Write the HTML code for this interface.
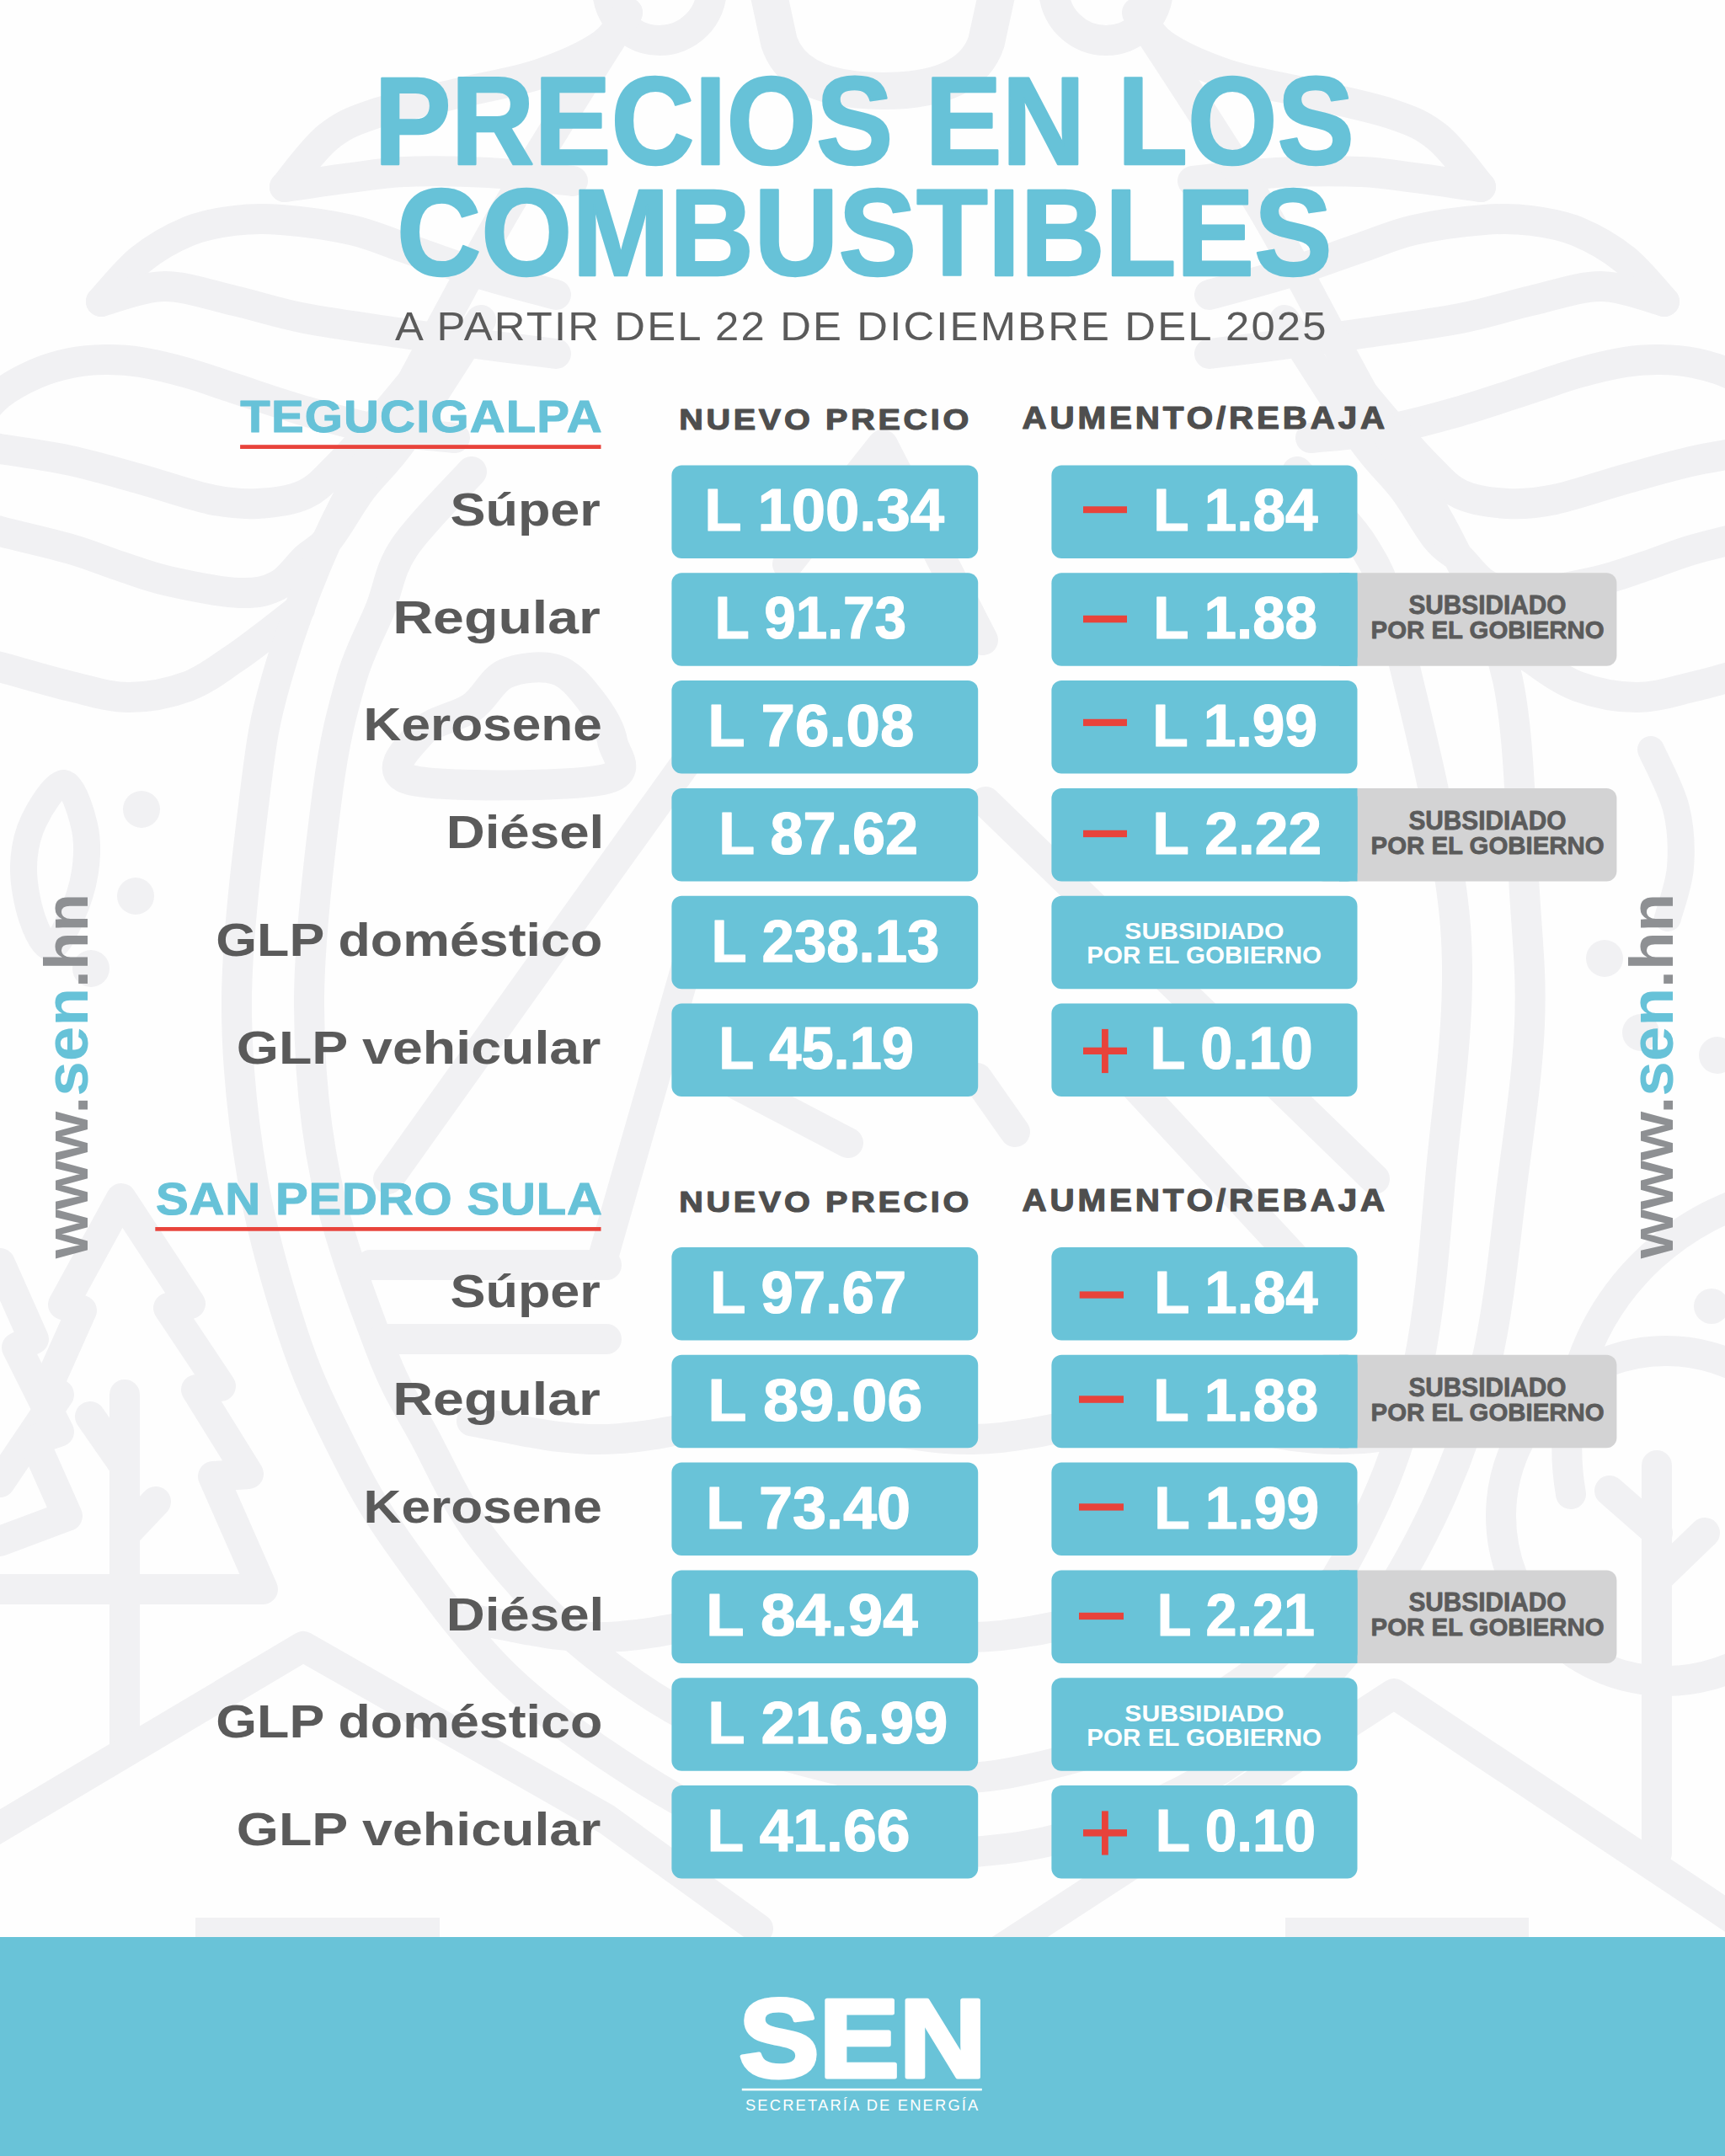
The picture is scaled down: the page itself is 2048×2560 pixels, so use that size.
<!DOCTYPE html>
<html><head><meta charset="utf-8"><style>
html,body{margin:0;padding:0;background:#fefefe;}
body{width:2048px;height:2560px;overflow:hidden;position:relative;}
svg{position:absolute;left:0;top:0;}
text{font-family:"Liberation Sans", sans-serif;}
</style></head><body>
<svg width="2048" height="2560" viewBox="0 0 2048 2560">
<rect x="0" y="0" width="2048" height="2560" fill="#fefefe"/>
<g fill="none" stroke="#f1f1f3" stroke-width="36" stroke-linecap="round" stroke-linejoin="round">
<path d="M338.0,222.0 C346.5,212.2 371.2,177.5 389.0,163.0 C406.8,148.5 418.7,143.8 445.0,135.0 C471.3,126.2 514.5,117.8 547.0,110.0 C579.5,102.2 612.0,97.5 640.0,88.0 C668.0,78.5 697.5,65.2 715.0,53.0 C732.5,40.8 740.0,21.3 745.0,15.0"/>
<path d="M1758.0,222.0 C1749.5,212.2 1724.8,177.5 1707.0,163.0 C1689.2,148.5 1677.3,143.8 1651.0,135.0 C1624.7,126.2 1581.5,117.8 1549.0,110.0 C1516.5,102.2 1484.0,97.5 1456.0,88.0 C1428.0,78.5 1398.5,65.2 1381.0,53.0 C1363.5,40.8 1356.0,21.3 1351.0,15.0"/>
<path d="M338.0,222.0 C351.2,220.2 393.3,214.0 417.0,211.0 C440.7,208.0 452.8,205.0 480.0,204.0 C507.2,203.0 546.7,203.2 580.0,205.0 C613.3,206.8 663.3,213.3 680.0,215.0"/>
<path d="M1758.0,222.0 C1744.8,220.2 1702.7,214.0 1679.0,211.0 C1655.3,208.0 1643.2,205.0 1616.0,204.0 C1588.8,203.0 1549.3,203.2 1516.0,205.0 C1482.7,206.8 1432.7,213.3 1416.0,215.0"/>
<path d="M120.0,358.0 C127.8,349.7 149.8,321.8 167.0,308.0 C184.2,294.2 204.5,282.7 223.0,275.0 C241.5,267.3 259.5,264.3 278.0,262.0 C296.5,259.7 310.8,259.2 334.0,261.0 C357.2,262.8 392.7,267.5 417.0,273.0 C441.3,278.5 454.5,285.3 480.0,294.0 C505.5,302.7 540.0,315.7 570.0,325.0 C600.0,334.3 645.0,345.8 660.0,350.0"/>
<path d="M1976.0,358.0 C1968.2,349.7 1946.2,321.8 1929.0,308.0 C1911.8,294.2 1891.5,282.7 1873.0,275.0 C1854.5,267.3 1836.5,264.3 1818.0,262.0 C1799.5,259.7 1785.2,259.2 1762.0,261.0 C1738.8,262.8 1703.3,267.5 1679.0,273.0 C1654.7,278.5 1641.5,285.3 1616.0,294.0 C1590.5,302.7 1556.0,315.7 1526.0,325.0 C1496.0,334.3 1451.0,345.8 1436.0,350.0"/>
<path d="M120.0,358.0 C132.5,355.0 168.7,340.2 195.0,340.0 C221.3,339.8 250.2,350.7 278.0,357.0 C305.8,363.3 328.3,371.5 362.0,378.0 C395.7,384.5 443.7,390.7 480.0,396.0 C516.3,401.3 550.0,406.0 580.0,410.0 C610.0,414.0 646.7,418.3 660.0,420.0"/>
<path d="M1976.0,358.0 C1963.5,355.0 1927.3,340.2 1901.0,340.0 C1874.7,339.8 1845.8,350.7 1818.0,357.0 C1790.2,363.3 1767.7,371.5 1734.0,378.0 C1700.3,384.5 1652.3,390.7 1616.0,396.0 C1579.7,401.3 1546.0,406.0 1516.0,410.0 C1486.0,414.0 1449.3,418.3 1436.0,420.0"/>
<path d="M-30.0,500.0 C-25.0,494.7 -12.0,477.3 0.0,468.0 C12.0,458.7 28.0,450.2 42.0,444.0 C56.0,437.8 70.2,433.8 84.0,431.0 C97.8,428.2 111.2,427.2 125.0,427.0 C138.8,426.8 150.7,427.3 167.0,430.0 C183.3,432.7 204.5,437.8 223.0,443.0 C241.5,448.2 254.8,453.5 278.0,461.0 C301.2,468.5 333.3,479.8 362.0,488.0 C390.7,496.2 420.3,504.7 450.0,510.0 C479.7,515.3 525.0,518.3 540.0,520.0"/>
<path d="M2126.0,500.0 C2121.0,494.7 2108.0,477.3 2096.0,468.0 C2084.0,458.7 2068.0,450.2 2054.0,444.0 C2040.0,437.8 2025.8,433.8 2012.0,431.0 C1998.2,428.2 1984.8,427.2 1971.0,427.0 C1957.2,426.8 1945.3,427.3 1929.0,430.0 C1912.7,432.7 1891.5,437.8 1873.0,443.0 C1854.5,448.2 1841.2,453.5 1818.0,461.0 C1794.8,468.5 1762.7,479.8 1734.0,488.0 C1705.3,496.2 1675.7,504.7 1646.0,510.0 C1616.3,515.3 1571.0,518.3 1556.0,520.0"/>
<path d="M-30.0,530.0 C-25.0,530.5 -19.0,530.2 0.0,533.0 C19.0,535.8 56.2,541.0 84.0,547.0 C111.8,553.0 139.3,561.3 167.0,569.0 C194.7,576.7 226.8,588.2 250.0,593.0 C273.2,597.8 287.3,599.0 306.0,598.0 C324.7,597.0 346.3,594.2 362.0,587.0 C377.7,579.8 385.3,569.5 400.0,555.0 C414.7,540.5 433.3,519.2 450.0,500.0 C466.7,480.8 491.7,450.0 500.0,440.0"/>
<path d="M2126.0,530.0 C2121.0,530.5 2115.0,530.2 2096.0,533.0 C2077.0,535.8 2039.8,541.0 2012.0,547.0 C1984.2,553.0 1956.7,561.3 1929.0,569.0 C1901.3,576.7 1869.2,588.2 1846.0,593.0 C1822.8,597.8 1808.7,599.0 1790.0,598.0 C1771.3,597.0 1749.7,594.2 1734.0,587.0 C1718.3,579.8 1710.7,569.5 1696.0,555.0 C1681.3,540.5 1662.7,519.2 1646.0,500.0 C1629.3,480.8 1604.3,450.0 1596.0,440.0"/>
<path d="M-30.0,622.0 C-25.0,623.5 -19.0,626.0 0.0,631.0 C19.0,636.0 60.3,645.2 84.0,652.0 C107.7,658.8 122.7,665.7 142.0,672.0 C161.3,678.3 176.3,684.7 200.0,690.0 C223.7,695.3 262.3,703.2 284.0,704.0 C305.7,704.8 316.8,701.8 330.0,695.0 C343.2,688.2 353.0,672.2 363.0,663.0 C373.0,653.8 378.8,653.8 390.0,640.0 C401.2,626.2 415.0,600.0 430.0,580.0 C445.0,560.0 456.5,553.3 480.0,520.0 C503.5,486.7 555.8,403.3 571.0,380.0"/>
<path d="M2126.0,622.0 C2121.0,623.5 2115.0,626.0 2096.0,631.0 C2077.0,636.0 2035.7,645.2 2012.0,652.0 C1988.3,658.8 1973.3,665.7 1954.0,672.0 C1934.7,678.3 1919.7,684.7 1896.0,690.0 C1872.3,695.3 1833.7,703.2 1812.0,704.0 C1790.3,704.8 1779.2,701.8 1766.0,695.0 C1752.8,688.2 1743.0,672.2 1733.0,663.0 C1723.0,653.8 1717.2,653.8 1706.0,640.0 C1694.8,626.2 1681.0,600.0 1666.0,580.0 C1651.0,560.0 1639.5,553.3 1616.0,520.0 C1592.5,486.7 1540.2,403.3 1525.0,380.0"/>
<path d="M-30.0,785.0 C-25.0,786.2 -19.0,787.0 0.0,792.0 C19.0,797.0 58.5,809.0 84.0,815.0 C109.5,821.0 129.8,828.0 153.0,828.0 C176.2,828.0 202.2,822.7 223.0,815.0 C243.8,807.3 261.8,792.7 278.0,782.0 C294.2,771.3 307.0,760.8 320.0,751.0 C333.0,741.2 350.0,727.7 356.0,723.0"/>
<path d="M2126.0,785.0 C2121.0,786.2 2115.0,787.0 2096.0,792.0 C2077.0,797.0 2037.5,809.0 2012.0,815.0 C1986.5,821.0 1966.2,828.0 1943.0,828.0 C1919.8,828.0 1893.8,822.7 1873.0,815.0 C1852.2,807.3 1834.2,792.7 1818.0,782.0 C1801.8,771.3 1789.0,760.8 1776.0,751.0 C1763.0,741.2 1746.0,727.7 1740.0,723.0"/>
<circle cx="783" cy="-14" r="62"/>
<circle cx="1313" cy="-14" r="62"/>
<path d="M912,-10 L925,50 C940,95 990,108 1048,108 C1106,108 1156,95 1171,50 L1184,-10" stroke-width="44"/>
<path d="M745.0,15.0 C720.8,54.2 644.2,174.2 600.0,250.0 C555.8,325.8 515.2,405.0 480.0,470.0 C444.8,535.0 414.3,583.8 389.0,640.0 C363.7,696.2 342.3,757.0 328.0,807.0 C313.7,857.0 310.8,876.7 303.0,940.0 C295.2,1003.3 281.5,1110.3 281.0,1187.0 C280.5,1263.7 288.8,1333.8 300.0,1400.0 C311.2,1466.2 331.3,1533.0 348.0,1584.0 C364.7,1635.0 379.7,1665.3 400.0,1706.0 C420.3,1746.7 436.7,1780.7 470.0,1828.0 C503.3,1875.3 551.7,1943.0 600.0,1990.0 C648.3,2037.0 710.0,2078.3 760.0,2110.0 C810.0,2141.7 852.0,2164.2 900.0,2180.0 C948.0,2195.8 1023.3,2200.8 1048.0,2205.0"/>
<path d="M560.0,560.0 C546.7,575.0 498.2,622.7 480.0,650.0 C461.8,677.3 461.5,697.8 451.0,724.0 C440.5,750.2 427.3,771.0 417.0,807.0 C406.7,843.0 397.3,876.7 389.0,940.0 C380.7,1003.3 367.3,1110.3 367.0,1187.0 C366.7,1263.7 372.8,1330.8 387.0,1400.0 C401.2,1469.2 432.5,1551.0 452.0,1602.0 C471.5,1653.0 483.7,1668.3 504.0,1706.0 C524.3,1743.7 541.3,1785.7 574.0,1828.0 C606.7,1870.3 652.3,1921.3 700.0,1960.0 C747.7,1998.7 802.0,2034.2 860.0,2060.0 C918.0,2085.8 1016.7,2105.8 1048.0,2115.0"/>
<path d="M1350.0,15.0 C1375.0,54.2 1455.0,174.2 1500.0,250.0 C1545.0,325.8 1583.3,405.0 1620.0,470.0 C1656.7,535.0 1691.7,583.8 1720.0,640.0 C1748.3,696.2 1775.0,737.0 1790.0,807.0 C1805.0,877.0 1805.7,991.8 1810.0,1060.0 C1814.3,1128.2 1818.3,1159.3 1816.0,1216.0 C1813.7,1272.7 1804.7,1332.7 1796.0,1400.0 C1787.3,1467.3 1780.0,1553.3 1764.0,1620.0 C1748.0,1686.7 1727.3,1743.3 1700.0,1800.0 C1672.7,1856.7 1641.7,1910.0 1600.0,1960.0 C1558.3,2010.0 1508.3,2062.5 1450.0,2100.0 C1391.7,2137.5 1317.0,2167.5 1250.0,2185.0 C1183.0,2202.5 1081.7,2201.7 1048.0,2205.0"/>
<path d="M1540.0,560.0 C1553.3,575.0 1600.0,616.7 1620.0,650.0 C1640.0,683.3 1642.0,685.0 1660.0,760.0 C1678.0,835.0 1719.7,993.3 1728.0,1100.0 C1736.3,1206.7 1717.3,1313.3 1710.0,1400.0 C1702.7,1486.7 1697.3,1555.0 1684.0,1620.0 C1670.7,1685.0 1655.7,1735.0 1630.0,1790.0 C1604.3,1845.0 1571.7,1906.7 1530.0,1950.0 C1488.3,1993.3 1435.0,2024.2 1380.0,2050.0 C1325.0,2075.8 1255.3,2094.2 1200.0,2105.0 C1144.7,2115.8 1073.3,2113.3 1048.0,2115.0"/>
<path d="M76.0,930.0 C86.0,930.8 95.8,962.5 100.0,980.0 C104.2,997.5 103.7,1016.7 101.0,1035.0 C98.3,1053.3 90.8,1075.0 84.0,1090.0 C77.2,1105.0 67.7,1125.0 60.0,1125.0 C52.3,1125.0 43.3,1105.8 38.0,1090.0 C32.7,1074.2 27.7,1049.2 28.0,1030.0 C28.3,1010.8 32.0,991.7 40.0,975.0 C48.0,958.3 66.0,929.2 76.0,930.0 Z" stroke-width="32"/>
<circle cx="168" cy="961" r="22" fill="#f1f1f3" stroke="none"/>
<circle cx="161" cy="1064" r="22" fill="#f1f1f3" stroke="none"/>
<circle cx="108" cy="1150" r="22" fill="#f1f1f3" stroke="none"/>
<circle cx="1905" cy="1138" r="22" fill="#f1f1f3" stroke="none"/>
<circle cx="1948" cy="1226" r="22" fill="#f1f1f3" stroke="none"/>
<circle cx="2039" cy="1253" r="22" fill="#f1f1f3" stroke="none"/>
<path d="M1960.0,890.0 C1965.0,901.7 1984.2,936.7 1990.0,960.0 C1995.8,983.3 1996.7,1008.3 1995.0,1030.0 C1993.3,1051.7 1982.5,1080.0 1980.0,1090.0" stroke-width="32"/>
<polyline points="0,1887 312,1887 253,1753 295,1750 233,1650 262,1646 200,1553 226,1548 144,1423 75,1549 97,1556 55,1650 70,1656 0,1760" stroke-linejoin="round"/>
<polyline points="0,1500 40,1590 20,1600 70,1700 40,1710 80,1800 0,1830"/>
<path d="M148,1656 L148,2072 M107,1682 L148,1741 M185,1783 L148,1822"/>
<path d="M440,1502 L720,1502 M455,1590 L720,1590"/>
<circle cx="1978" cy="1800" r="196"/>
<path d="M1865,1774 A310,310 0 0,1 2250,1421"/>
<circle cx="2032" cy="1551" r="21" fill="#f1f1f3" stroke="none"/>
<path d="M1967,1740 L1967,2200 M1911,1770 L1968,1820 M2024,1820 L1968,1874"/>
<polyline points="-20,2181 360,1955 720,2160 900,2290"/>
<polyline points="1180,2320 1655,2011 2060,2280"/>
<rect x="232" y="2277" width="290" height="30" fill="#f1f1f3" stroke="none"/>
<rect x="1526" y="2277" width="289" height="30" fill="#f1f1f3" stroke="none"/>
<polyline points="461,1400 650,1135 840,870"/>
<polyline points="1632,1400 1400,1175 1170,952"/>
<polyline points="714,1500 777,1280 820,1130"/>
<polyline points="860,1280 1007,1357"/>
<polyline points="1160,1280 1205,1344"/>
<polyline points="1339,1280 1543,1500"/>
<polyline points="935,670 1048,528 1167,760"/>
<path d="M560.0,1687.4 C565.8,1688.5 583.3,1691.8 595.0,1694.0 C606.7,1696.2 618.3,1698.8 630.0,1700.8 C641.7,1702.9 653.3,1704.9 665.0,1706.2 C676.7,1707.6 688.3,1708.5 700.0,1708.9 C711.7,1709.2 723.3,1708.9 735.0,1708.1 C746.7,1707.3 758.3,1705.8 770.0,1704.2 C781.7,1702.5 793.3,1700.1 805.0,1698.0 C816.7,1695.8 828.3,1693.2 840.0,1691.0 C851.7,1688.9 863.3,1686.7 875.0,1685.1 C886.7,1683.5 898.3,1682.2 910.0,1681.6 C921.7,1680.9 933.3,1680.8 945.0,1681.3 C956.7,1681.8 968.3,1683.0 980.0,1684.4 C991.7,1685.9 1003.3,1688.0 1015.0,1690.1 C1026.7,1692.2 1038.3,1694.8 1050.0,1697.0 C1061.7,1699.2 1073.3,1701.6 1085.0,1703.4 C1096.7,1705.2 1108.3,1706.8 1120.0,1707.8 C1131.7,1708.7 1143.3,1709.1 1155.0,1709.0 C1166.7,1708.8 1178.3,1708.0 1190.0,1706.8 C1201.7,1705.5 1213.3,1703.6 1225.0,1701.7 C1236.7,1699.7 1248.3,1697.2 1260.0,1694.9 C1271.7,1692.7 1283.3,1690.2 1295.0,1688.2 C1306.7,1686.3 1318.3,1684.4 1330.0,1683.2 C1341.7,1682.0 1353.3,1681.2 1365.0,1681.0 C1376.7,1680.9 1388.3,1681.4 1400.0,1682.3 C1411.7,1683.2 1423.3,1684.9 1435.0,1686.7 C1446.7,1688.5 1458.3,1690.9 1470.0,1693.1 C1481.7,1695.3 1493.3,1697.9 1505.0,1700.0 C1516.7,1702.1 1528.3,1704.2 1540.0,1705.6 C1551.7,1707.1 1563.3,1708.2 1575.0,1708.7 C1586.7,1709.2 1598.3,1709.1 1610.0,1708.4 C1621.7,1707.8 1633.3,1706.4 1645.0,1704.8 C1656.7,1703.2 1668.3,1701.0 1680.0,1698.9 C1691.7,1696.7 1703.3,1694.1 1715.0,1691.9 C1726.7,1689.8 1744.2,1686.8 1750.0,1685.8"/>
<path d="M560.0,1922.4 C565.8,1923.5 583.3,1926.8 595.0,1929.0 C606.7,1931.2 618.3,1933.8 630.0,1935.8 C641.7,1937.9 653.3,1939.9 665.0,1941.2 C676.7,1942.6 688.3,1943.5 700.0,1943.9 C711.7,1944.2 723.3,1943.9 735.0,1943.1 C746.7,1942.3 758.3,1940.8 770.0,1939.2 C781.7,1937.5 793.3,1935.1 805.0,1933.0 C816.7,1930.8 828.3,1928.2 840.0,1926.0 C851.7,1923.9 863.3,1921.7 875.0,1920.1 C886.7,1918.5 898.3,1917.2 910.0,1916.6 C921.7,1915.9 933.3,1915.8 945.0,1916.3 C956.7,1916.8 968.3,1918.0 980.0,1919.4 C991.7,1920.9 1003.3,1923.0 1015.0,1925.1 C1026.7,1927.2 1038.3,1929.8 1050.0,1932.0 C1061.7,1934.2 1073.3,1936.6 1085.0,1938.4 C1096.7,1940.2 1108.3,1941.8 1120.0,1942.8 C1131.7,1943.7 1143.3,1944.1 1155.0,1944.0 C1166.7,1943.8 1178.3,1943.0 1190.0,1941.8 C1201.7,1940.5 1213.3,1938.6 1225.0,1936.7 C1236.7,1934.7 1248.3,1932.2 1260.0,1929.9 C1271.7,1927.7 1283.3,1925.2 1295.0,1923.2 C1306.7,1921.3 1318.3,1919.4 1330.0,1918.2 C1341.7,1917.0 1353.3,1916.2 1365.0,1916.0 C1376.7,1915.9 1388.3,1916.4 1400.0,1917.3 C1411.7,1918.2 1423.3,1919.9 1435.0,1921.7 C1446.7,1923.5 1458.3,1925.9 1470.0,1928.1 C1481.7,1930.3 1493.3,1932.9 1505.0,1935.0 C1516.7,1937.1 1528.3,1939.2 1540.0,1940.6 C1551.7,1942.1 1563.3,1943.2 1575.0,1943.7 C1586.7,1944.2 1598.3,1944.1 1610.0,1943.4 C1621.7,1942.8 1633.3,1941.4 1645.0,1939.8 C1656.7,1938.2 1668.3,1936.0 1680.0,1933.9 C1691.7,1931.7 1703.3,1929.1 1715.0,1926.9 C1726.7,1924.8 1744.2,1921.8 1750.0,1920.8"/>
<path d="M487.0,926.0 C451.2,916.7 487.8,884.3 500.0,870.0 C512.2,855.7 543.3,851.7 560.0,840.0 C576.7,828.3 583.3,807.5 600.0,800.0 C616.7,792.5 643.3,790.0 660.0,795.0 C676.7,800.0 688.8,815.8 700.0,830.0 C711.2,844.2 724.5,864.0 727.0,880.0 C729.5,896.0 755.0,918.3 715.0,926.0 C675.0,933.7 522.8,935.3 487.0,926.0 Z"/>
</g>
<rect x="0" y="2300" width="2048" height="260" fill="#69c3d8"/>
<rect x="880.8" y="2479.8" width="285" height="2.6" fill="#ffffff"/>
<rect x="797.4" y="552.50" width="363.8" height="110.5" rx="12" fill="#69c3d8"/>
<rect x="1248.4" y="552.50" width="363.1" height="110.5" rx="12" fill="#69c3d8"/>
<rect x="1286" y="601.25" width="52.00" height="7.95" fill="#e8433b"/>
<rect x="797.4" y="680.30" width="363.8" height="110.5" rx="12" fill="#69c3d8"/>
<rect x="1560" y="680.30" width="359.4" height="110.5" rx="12" fill="#d3d3d4"/>
<rect x="1248.4" y="680.30" width="363.1" height="110.5" rx="12" fill="#69c3d8"/>
<rect x="1590" y="680.30" width="21.5" height="110.5" fill="#69c3d8"/>
<rect x="1286" y="730.80" width="52.00" height="8.50" fill="#e8433b"/>
<rect x="797.4" y="808.10" width="363.8" height="110.5" rx="12" fill="#69c3d8"/>
<rect x="1248.4" y="808.10" width="363.1" height="110.5" rx="12" fill="#69c3d8"/>
<rect x="1286" y="853.80" width="52.00" height="8.30" fill="#e8433b"/>
<rect x="797.4" y="935.90" width="363.8" height="110.5" rx="12" fill="#69c3d8"/>
<rect x="1560" y="935.90" width="359.4" height="110.5" rx="12" fill="#d3d3d4"/>
<rect x="1248.4" y="935.90" width="363.1" height="110.5" rx="12" fill="#69c3d8"/>
<rect x="1590" y="935.90" width="21.5" height="110.5" fill="#69c3d8"/>
<rect x="1286" y="985.80" width="52.00" height="8.30" fill="#e8433b"/>
<rect x="797.4" y="1063.70" width="363.8" height="110.5" rx="12" fill="#69c3d8"/>
<rect x="1248.4" y="1063.70" width="363.1" height="110.5" rx="12" fill="#69c3d8"/>
<rect x="797.4" y="1191.50" width="363.8" height="110.5" rx="12" fill="#69c3d8"/>
<rect x="1248.4" y="1191.50" width="363.1" height="110.5" rx="12" fill="#69c3d8"/>
<rect x="1286" y="1243.70" width="52" height="8.3" fill="#e8433b"/>
<rect x="1308" y="1221.90" width="7.8" height="52.2" fill="#e8433b"/>
<rect x="797.4" y="1481.00" width="363.8" height="110.5" rx="12" fill="#69c3d8"/>
<rect x="1248.4" y="1481.00" width="363.1" height="110.5" rx="12" fill="#69c3d8"/>
<rect x="1281.7" y="1533.40" width="52.30" height="8.25" fill="#e8433b"/>
<rect x="797.4" y="1608.80" width="363.8" height="110.5" rx="12" fill="#69c3d8"/>
<rect x="1560" y="1608.80" width="359.4" height="110.5" rx="12" fill="#d3d3d4"/>
<rect x="1248.4" y="1608.80" width="363.1" height="110.5" rx="12" fill="#69c3d8"/>
<rect x="1590" y="1608.80" width="21.5" height="110.5" fill="#69c3d8"/>
<rect x="1281" y="1657.30" width="53.00" height="8.50" fill="#e8433b"/>
<rect x="797.4" y="1736.60" width="363.8" height="110.5" rx="12" fill="#69c3d8"/>
<rect x="1248.4" y="1736.60" width="363.1" height="110.5" rx="12" fill="#69c3d8"/>
<rect x="1281" y="1785.30" width="53.00" height="8.30" fill="#e8433b"/>
<rect x="797.4" y="1864.40" width="363.8" height="110.5" rx="12" fill="#69c3d8"/>
<rect x="1560" y="1864.40" width="359.4" height="110.5" rx="12" fill="#d3d3d4"/>
<rect x="1248.4" y="1864.40" width="363.1" height="110.5" rx="12" fill="#69c3d8"/>
<rect x="1590" y="1864.40" width="21.5" height="110.5" fill="#69c3d8"/>
<rect x="1281" y="1914.80" width="53.00" height="8.30" fill="#e8433b"/>
<rect x="797.4" y="1992.20" width="363.8" height="110.5" rx="12" fill="#69c3d8"/>
<rect x="1248.4" y="1992.20" width="363.1" height="110.5" rx="12" fill="#69c3d8"/>
<rect x="797.4" y="2120.00" width="363.8" height="110.5" rx="12" fill="#69c3d8"/>
<rect x="1248.4" y="2120.00" width="363.1" height="110.5" rx="12" fill="#69c3d8"/>
<rect x="1286" y="2172.20" width="52" height="8.3" fill="#e8433b"/>
<rect x="1308" y="2150.40" width="7.8" height="52.2" fill="#e8433b"/>
<rect x="285.1" y="528.2" width="428.4" height="4.8" fill="#e8433b"/>
<rect x="184.3" y="1457" width="529.2" height="4.7" fill="#e8433b"/>
<text transform="translate(444.20 195.05) scale(0.9272 1)" font-size="147.63" font-weight="bold" fill="#67c2d8" stroke="#67c2d8" stroke-width="2.5" stroke-linejoin="round">PRECIOS EN LOS</text>
<text transform="translate(470.96 327.25) scale(0.9432 1)" font-size="147.20" font-weight="bold" fill="#67c2d8" stroke="#67c2d8" stroke-width="2.5" stroke-linejoin="round">COMBUSTIBLES</text>
<text transform="translate(469.00 404.00) scale(1.0500 1)" font-size="48.36" font-weight="normal" letter-spacing="2.073" fill="#5a5a5a">A PARTIR DEL 22 DE DICIEMBRE DEL 2025</text>
<text transform="translate(285.35 513.40) scale(1.0800 1)" font-size="53.76" font-weight="bold" letter-spacing="1.042" fill="#67c2d8" stroke="#67c2d8" stroke-width="1" stroke-linejoin="round">TEGUCIGALPA</text>
<text transform="translate(806.23 509.90) scale(1.1000 1)" font-size="35.98" font-weight="bold" letter-spacing="3.361" fill="#4e4e4e" stroke="#4e4e4e" stroke-width="1.2" stroke-linejoin="round">NUEVO PRECIO</text>
<text transform="translate(1213.62 508.90) scale(1.1000 1)" font-size="36.69" font-weight="bold" letter-spacing="3.518" fill="#4e4e4e" stroke="#4e4e4e" stroke-width="1.2" stroke-linejoin="round">AUMENTO/REBAJA</text>
<text transform="translate(185.09 1442.40) scale(1.0800 1)" font-size="53.76" font-weight="bold" letter-spacing="0.758" fill="#67c2d8" stroke="#67c2d8" stroke-width="1" stroke-linejoin="round">SAN PEDRO SULA</text>
<text transform="translate(806.23 1438.90) scale(1.1000 1)" font-size="35.98" font-weight="bold" letter-spacing="3.361" fill="#4e4e4e" stroke="#4e4e4e" stroke-width="1.2" stroke-linejoin="round">NUEVO PRECIO</text>
<text transform="translate(1213.62 1437.90) scale(1.1000 1)" font-size="36.69" font-weight="bold" letter-spacing="3.518" fill="#4e4e4e" stroke="#4e4e4e" stroke-width="1.2" stroke-linejoin="round">AUMENTO/REBAJA</text>
<text transform="translate(534.42 623.70) scale(1.1384 1)" font-size="55.32" font-weight="bold" fill="#5a5a5a">Súper</text>
<text transform="translate(836.37 630.40) scale(1.0400 1)" font-size="69.69" font-weight="bold" fill="#ffffff" stroke="#ffffff" stroke-width="1.2" stroke-linejoin="round">L 100.34</text>
<text transform="translate(1369.26 630.40) scale(0.9956 1)" font-size="69.69" font-weight="bold" fill="#ffffff" stroke="#ffffff" stroke-width="1.2" stroke-linejoin="round">L 1.84</text>
<text transform="translate(466.26 751.50) scale(1.1976 1)" font-size="55.32" font-weight="bold" fill="#5a5a5a">Regular</text>
<text transform="translate(848.43 758.20) scale(0.9687 1)" font-size="69.69" font-weight="bold" fill="#ffffff" stroke="#ffffff" stroke-width="1.2" stroke-linejoin="round">L 91.73</text>
<text transform="translate(1672.43 729.25) scale(0.9769 1)" font-size="30.51" font-weight="bold" fill="#5b5b5b" stroke="#5b5b5b" stroke-width="0.8" stroke-linejoin="round">SUBSIDIADO</text>
<text transform="translate(1627.56 758.30) scale(0.9704 1)" font-size="30.29" font-weight="bold" fill="#5b5b5b" stroke="#5b5b5b" stroke-width="0.8" stroke-linejoin="round">POR EL GOBIERNO</text>
<text transform="translate(1369.28 758.20) scale(0.9923 1)" font-size="69.69" font-weight="bold" fill="#ffffff" stroke="#ffffff" stroke-width="1.2" stroke-linejoin="round">L 1.88</text>
<text transform="translate(431.57 879.30) scale(1.1233 1)" font-size="55.32" font-weight="bold" fill="#5a5a5a">Kerosene</text>
<text transform="translate(840.36 886.00) scale(1.0425 1)" font-size="69.69" font-weight="bold" fill="#ffffff" stroke="#ffffff" stroke-width="1.2" stroke-linejoin="round">L 76.08</text>
<text transform="translate(1368.25 886.00) scale(0.9976 1)" font-size="69.69" font-weight="bold" fill="#ffffff" stroke="#ffffff" stroke-width="1.2" stroke-linejoin="round">L 1.99</text>
<text transform="translate(529.72 1007.10) scale(1.1506 1)" font-size="55.32" font-weight="bold" fill="#5a5a5a">Diésel</text>
<text transform="translate(853.26 1013.80) scale(1.0078 1)" font-size="69.69" font-weight="bold" fill="#ffffff" stroke="#ffffff" stroke-width="1.2" stroke-linejoin="round">L 87.62</text>
<text transform="translate(1672.43 984.85) scale(0.9769 1)" font-size="30.51" font-weight="bold" fill="#5b5b5b" stroke="#5b5b5b" stroke-width="0.8" stroke-linejoin="round">SUBSIDIADO</text>
<text transform="translate(1627.56 1013.90) scale(0.9704 1)" font-size="30.29" font-weight="bold" fill="#5b5b5b" stroke="#5b5b5b" stroke-width="0.8" stroke-linejoin="round">POR EL GOBIERNO</text>
<text transform="translate(1368.14 1013.80) scale(1.0237 1)" font-size="69.69" font-weight="bold" fill="#ffffff" stroke="#ffffff" stroke-width="1.2" stroke-linejoin="round">L 2.22</text>
<text transform="translate(256.34 1134.90) scale(1.1342 1)" font-size="55.32" font-weight="bold" fill="#5a5a5a">GLP doméstico</text>
<text transform="translate(844.59 1141.60) scale(0.9889 1)" font-size="69.69" font-weight="bold" fill="#ffffff" stroke="#ffffff" stroke-width="1.2" stroke-linejoin="round">L 238.13</text>
<text transform="translate(1335.28 1115.00) scale(1.0873 1)" font-size="27.73" font-weight="bold" fill="#ffffff">SUBSIDIADO</text>
<text transform="translate(1290.35 1144.20) scale(1.0141 1)" font-size="29.16" font-weight="bold" fill="#ffffff">POR EL GOBIERNO</text>
<text transform="translate(280.73 1262.70) scale(1.1664 1)" font-size="55.32" font-weight="bold" fill="#5a5a5a">GLP vehicular</text>
<text transform="translate(853.36 1269.40) scale(0.9860 1)" font-size="69.69" font-weight="bold" fill="#ffffff" stroke="#ffffff" stroke-width="1.2" stroke-linejoin="round">L 45.19</text>
<text transform="translate(1365.62 1269.40) scale(0.9833 1)" font-size="69.69" font-weight="bold" fill="#ffffff" stroke="#ffffff" stroke-width="1.2" stroke-linejoin="round">L 0.10</text>
<text transform="translate(534.42 1552.20) scale(1.1384 1)" font-size="55.32" font-weight="bold" fill="#5a5a5a">Súper</text>
<text transform="translate(843.33 1558.90) scale(0.9907 1)" font-size="69.69" font-weight="bold" fill="#ffffff" stroke="#ffffff" stroke-width="1.2" stroke-linejoin="round">L 97.67</text>
<text transform="translate(1370.29 1558.90) scale(0.9905 1)" font-size="69.69" font-weight="bold" fill="#ffffff" stroke="#ffffff" stroke-width="1.2" stroke-linejoin="round">L 1.84</text>
<text transform="translate(466.26 1680.00) scale(1.1976 1)" font-size="55.32" font-weight="bold" fill="#5a5a5a">Regular</text>
<text transform="translate(840.17 1686.70) scale(1.0859 1)" font-size="69.69" font-weight="bold" fill="#ffffff" stroke="#ffffff" stroke-width="1.2" stroke-linejoin="round">L 89.06</text>
<text transform="translate(1672.43 1657.75) scale(0.9769 1)" font-size="30.51" font-weight="bold" fill="#5b5b5b" stroke="#5b5b5b" stroke-width="0.8" stroke-linejoin="round">SUBSIDIADO</text>
<text transform="translate(1627.56 1686.80) scale(0.9704 1)" font-size="30.29" font-weight="bold" fill="#5b5b5b" stroke="#5b5b5b" stroke-width="0.8" stroke-linejoin="round">POR EL GOBIERNO</text>
<text transform="translate(1369.26 1686.70) scale(0.9976 1)" font-size="69.69" font-weight="bold" fill="#ffffff" stroke="#ffffff" stroke-width="1.2" stroke-linejoin="round">L 1.88</text>
<text transform="translate(431.57 1807.80) scale(1.1233 1)" font-size="55.32" font-weight="bold" fill="#5a5a5a">Kerosene</text>
<text transform="translate(838.14 1814.50) scale(1.0343 1)" font-size="69.69" font-weight="bold" fill="#ffffff" stroke="#ffffff" stroke-width="1.2" stroke-linejoin="round">L 73.40</text>
<text transform="translate(1370.25 1814.50) scale(0.9976 1)" font-size="69.69" font-weight="bold" fill="#ffffff" stroke="#ffffff" stroke-width="1.2" stroke-linejoin="round">L 1.99</text>
<text transform="translate(529.72 1935.60) scale(1.1506 1)" font-size="55.32" font-weight="bold" fill="#5a5a5a">Diésel</text>
<text transform="translate(837.98 1942.30) scale(1.0715 1)" font-size="69.69" font-weight="bold" fill="#ffffff" stroke="#ffffff" stroke-width="1.2" stroke-linejoin="round">L 84.94</text>
<text transform="translate(1672.43 1913.35) scale(0.9769 1)" font-size="30.51" font-weight="bold" fill="#5b5b5b" stroke="#5b5b5b" stroke-width="0.8" stroke-linejoin="round">SUBSIDIADO</text>
<text transform="translate(1627.56 1942.40) scale(0.9704 1)" font-size="30.29" font-weight="bold" fill="#5b5b5b" stroke="#5b5b5b" stroke-width="0.8" stroke-linejoin="round">POR EL GOBIERNO</text>
<text transform="translate(1373.65 1942.30) scale(0.9538 1)" font-size="69.69" font-weight="bold" fill="#ffffff" stroke="#ffffff" stroke-width="1.2" stroke-linejoin="round">L 2.21</text>
<text transform="translate(256.34 2063.40) scale(1.1342 1)" font-size="55.32" font-weight="bold" fill="#5a5a5a">GLP doméstico</text>
<text transform="translate(840.37 2070.10) scale(1.0410 1)" font-size="69.69" font-weight="bold" fill="#ffffff" stroke="#ffffff" stroke-width="1.2" stroke-linejoin="round">L 216.99</text>
<text transform="translate(1335.28 2043.50) scale(1.0873 1)" font-size="27.73" font-weight="bold" fill="#ffffff">SUBSIDIADO</text>
<text transform="translate(1290.35 2072.70) scale(1.0141 1)" font-size="29.16" font-weight="bold" fill="#ffffff">POR EL GOBIERNO</text>
<text transform="translate(280.73 2191.20) scale(1.1664 1)" font-size="55.32" font-weight="bold" fill="#5a5a5a">GLP vehicular</text>
<text transform="translate(839.44 2197.90) scale(1.0251 1)" font-size="69.69" font-weight="bold" fill="#ffffff" stroke="#ffffff" stroke-width="1.2" stroke-linejoin="round">L 41.66</text>
<text transform="translate(1371.83 2197.90) scale(0.9696 1)" font-size="69.69" font-weight="bold" fill="#ffffff" stroke="#ffffff" stroke-width="1.2" stroke-linejoin="round">L 0.10</text>
<text transform="translate(877.37 2466.20) scale(1.0801 1)" font-size="132.12" font-weight="bold" fill="#ffffff" stroke="#ffffff" stroke-width="5" stroke-linejoin="round">SEN</text>
<text transform="translate(884.93 2505.80) scale(1.0000 1)" font-size="18.35" font-weight="normal" letter-spacing="2.167" fill="#ffffff">SECRETARÍA DE ENERGÍA</text>
<text transform="translate(103.6 1494.33) rotate(-90) scale(1.0403 1)" font-size="71.91" font-weight="bold" fill="#8e9093">www.<tspan fill="#67c2d8">sen</tspan>.hn</text>
<text transform="translate(1986 1494.33) rotate(-90) scale(1.0403 1)" font-size="71.91" font-weight="bold" fill="#8e9093">www.<tspan fill="#67c2d8">sen</tspan>.hn</text>
</svg>
</body></html>
